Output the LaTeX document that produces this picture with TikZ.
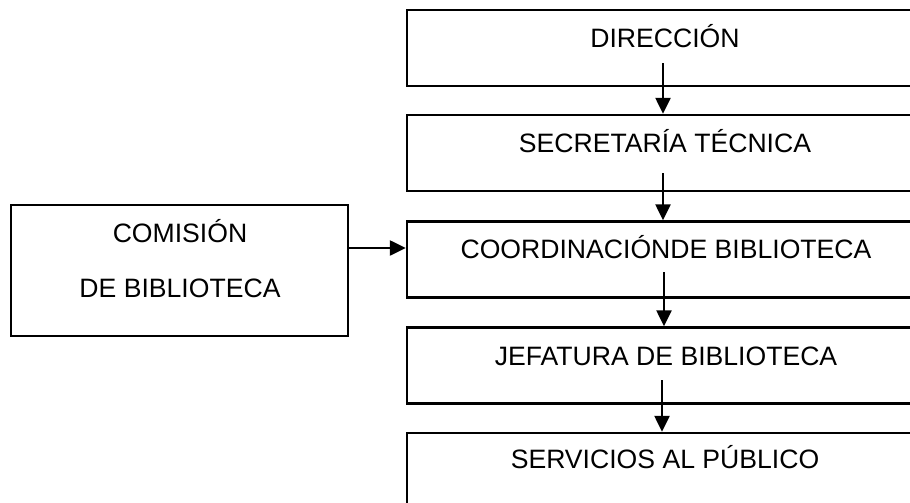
\documentclass[tikz,border=0pt]{standalone}
\usepackage{fontspec}
\setmainfont{Liberation Sans}
\usepackage{tikz}
\usetikzlibrary{arrows.meta,positioning,calc}

\begin{document}
\begin{tikzpicture}[
    x=0.5pt, y=-0.5pt,
    box/.style={rectangle, draw, line width=1.2pt, minimum width=257.5pt, minimum height=38pt, inner sep=0pt},
    txt/.style={anchor=base, inner sep=0pt, font=\fontsize{13.3}{16}\selectfont},
    arrow/.style={-{Triangle[width=7.5pt, length=8pt]}, line width=1.2pt}
]
    \useasboundingbox (0,0) rectangle (910,503);

    % Main chain of boxes
    \node[box] (dir) at (664.5, 48) {};
    \node[box] (sec) at (664.5, 153) {};
    \node[box] (coord) at (664.5, 259.5) {};
    \node[box] (jef) at (664.5, 365.5) {};
    \node[box] (serv) at (664.5, 471) {};

    % Side box
    \node[box, minimum width=168.5pt, minimum height=65.5pt] (com) at (179.5, 270.5) {};

    % Labels
    \node[txt] (dirt) at (665, 47) {DIRECCIÓN};
    \node[txt] (sect) at (665, 152) {SECRETARÍA TÉCNICA};
    \node[txt] (coordt) at (666, 258) {COORDINACIÓNDE BIBLIOTECA};
    \node[txt] (jeft) at (666, 365) {JEFATURA DE BIBLIOTECA};
    \node[txt] (servt) at (665, 468) {SERVICIOS AL PÚBLICO};
    \node[txt] (comt1) at (180, 242) {COMISIÓN};
    \node[txt] (comt2) at (180, 297) {DE BIBLIOTECA};

    % Arrows
    \draw[arrow] ([xshift=-1pt, yshift=-8pt]dirt.base) -- ([xshift=-1pt]dirt.base |- sec.north);
    \draw[arrow] ([xshift=-1pt, yshift=-10.5pt]sect.base) -- ([xshift=-1pt]sect.base |- coord.north);
    \draw[arrow] ([xshift=-1pt, yshift=-7pt]coordt.base) -- ([xshift=-1pt]coordt.base |- jef.north);
    \draw[arrow] ([xshift=-2pt, yshift=-7.5pt]jeft.base) -- ([xshift=-2pt]jeft.base |- serv.north);
    \coordinate (cin) at ([yshift=11.25pt]com.east);
    \draw[arrow] (cin) -- (cin -| coord.west);
\end{tikzpicture}
\end{document}
